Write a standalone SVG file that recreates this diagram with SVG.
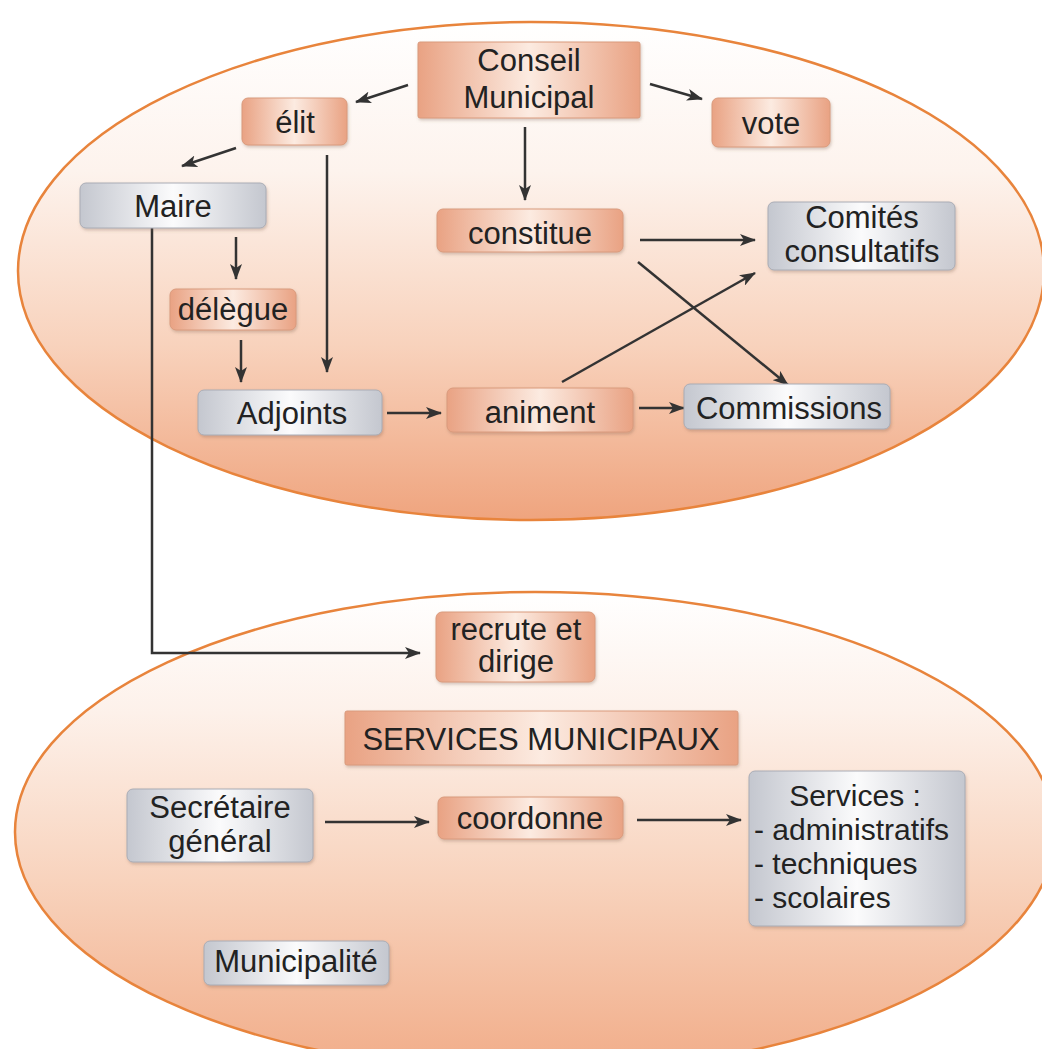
<svg xmlns="http://www.w3.org/2000/svg" width="1042" height="1049" viewBox="0 0 1042 1049">
<defs>
<linearGradient id="ellTop" x1="0" y1="0" x2="0" y2="1">
<stop offset="0" stop-color="#ffffff"/>
<stop offset="0.3" stop-color="#fdf3ed"/>
<stop offset="0.65" stop-color="#f8d2bc"/>
<stop offset="1" stop-color="#efa47e"/>
</linearGradient>
<linearGradient id="ellBot" x1="0" y1="0" x2="0" y2="1">
<stop offset="0" stop-color="#ffffff"/>
<stop offset="0.25" stop-color="#fdf1ea"/>
<stop offset="0.6" stop-color="#f8d3bd"/>
<stop offset="1" stop-color="#f1ac88"/>
</linearGradient>
<linearGradient id="peach" x1="0" y1="0" x2="1" y2="0">
<stop offset="0" stop-color="#e9a283"/>
<stop offset="0.5" stop-color="#fcebe1"/>
<stop offset="1" stop-color="#e9a283"/>
</linearGradient>
<linearGradient id="grey" x1="0" y1="0" x2="1" y2="0">
<stop offset="0" stop-color="#c4c7cf"/>
<stop offset="0.5" stop-color="#fbfbfc"/>
<stop offset="1" stop-color="#c4c7cf"/>
</linearGradient>
<filter id="sh" x="-10%" y="-10%" width="120%" height="130%">
<feDropShadow dx="1" dy="2" stdDeviation="1.5" flood-color="#7a5a4a" flood-opacity="0.3"/>
</filter>
<marker id="ah" viewBox="0 0 16 12" refX="15" refY="6" markerWidth="16" markerHeight="12" markerUnits="userSpaceOnUse" orient="auto">
<path d="M0,0 L16,6 L0,12 L4,6 Z" fill="#333"/>
</marker>
</defs>
<style>
.ell{stroke:#e8843c;stroke-width:2.5}
.pb{fill:url(#peach);stroke:#d99a7c;stroke-width:1;filter:url(#sh)}
.gb{fill:url(#grey);stroke:#a9acb5;stroke-width:1;filter:url(#sh)}
.t{font-family:"Liberation Sans",Arial,sans-serif;font-size:31px;fill:#222;text-anchor:middle}
.ts{font-size:30px}
.tl{text-anchor:start}
.c{fill:none;stroke:#333;stroke-width:2.5;marker-end:url(#ah)}
</style>
<rect width="1042" height="1049" fill="#ffffff"/>
<ellipse class="ell" cx="531" cy="271" rx="513" ry="249" fill="url(#ellTop)"/>
<ellipse class="ell" cx="535" cy="832" rx="520" ry="240" fill="url(#ellBot)"/>

<g id="connectors">
<line class="c" x1="408" y1="85" x2="356" y2="102"/>
<line class="c" x1="650" y1="84" x2="702" y2="99"/>
<line class="c" x1="236" y1="148" x2="182" y2="166"/>
<line class="c" x1="525" y1="127" x2="525" y2="200"/>
<line class="c" x1="327" y1="155" x2="327" y2="372"/>
<line class="c" x1="236" y1="237" x2="236" y2="279"/>
<line class="c" x1="241" y1="340" x2="241" y2="382"/>
<polyline class="c" points="152,228 152,653 420,653"/>
<line class="c" x1="387" y1="413" x2="441" y2="413"/>
<line class="c" x1="639" y1="408" x2="684" y2="408"/>
<line class="c" x1="562" y1="382" x2="755" y2="273"/>
<line class="c" x1="638" y1="262" x2="788" y2="385"/>
<line class="c" x1="640" y1="240" x2="755" y2="240"/>
<line class="c" x1="325" y1="822" x2="429" y2="822"/>
<line class="c" x1="637" y1="820" x2="741" y2="820"/>
</g>

<g id="conseil"><rect class="pb" x="418" y="42" width="222" height="76" rx="2"/><text class="t" x="529" y="71">Conseil</text><text class="t" x="529" y="108">Municipal</text></g>
<g id="elit"><rect class="pb" x="242" y="98" width="105" height="47" rx="6"/><text class="t" x="295" y="133">élit</text></g>
<g id="vote"><rect class="pb" x="712" y="98" width="118" height="49" rx="6"/><text class="t" x="771" y="134">vote</text></g>
<g id="maire"><rect class="gb" x="80" y="183" width="186" height="45" rx="6"/><text class="t" x="173" y="217">Maire</text></g>
<g id="constitue"><rect class="pb" x="437" y="209" width="186" height="43" rx="6"/><text class="t" x="530" y="244">constitue</text></g>
<g id="comites"><rect class="gb" x="768" y="202" width="187" height="68" rx="6"/><text class="t" x="862" y="228">Comités</text><text class="t" x="862" y="262">consultatifs</text></g>
<g id="delegue"><rect class="pb" x="170" y="289" width="126" height="41" rx="6"/><text class="t" x="233" y="320">délègue</text></g>
<g id="adjoints"><rect class="gb" x="198" y="390" width="184" height="45" rx="6"/><text class="t" x="292" y="424">Adjoints</text></g>
<g id="animent"><rect class="pb" x="447" y="388" width="186" height="44" rx="6"/><text class="t" x="540" y="423">animent</text></g>
<g id="commissions"><rect class="gb" x="684" y="384" width="206" height="45" rx="6"/><text class="t" x="789" y="419">Commissions</text></g>
<g id="recrute"><rect class="pb" x="436" y="612" width="159" height="70" rx="6"/><text class="t" x="516" y="640">recrute et</text><text class="t" x="516" y="672">dirige</text></g>
<g id="services-municipaux"><rect class="pb" x="345" y="711" width="393" height="54" rx="2"/><text class="t" x="541" y="750">SERVICES MUNICIPAUX</text></g>
<g id="secretaire"><rect class="gb" x="127" y="789" width="186" height="73" rx="6"/><text class="t" x="220" y="818">Secrétaire</text><text class="t" x="220" y="852">général</text></g>
<g id="coordonne"><rect class="pb" x="438" y="797" width="185" height="42" rx="6"/><text class="t" x="530" y="829">coordonne</text></g>
<g id="services"><rect class="gb" x="749" y="771" width="216" height="155" rx="6"/><text class="t ts" x="855" y="806">Services :</text><text class="t ts tl" x="754" y="840">- administratifs</text><text class="t ts tl" x="754" y="874">- techniques</text><text class="t ts tl" x="754" y="908">- scolaires</text></g>
<g id="municipalite"><rect class="gb" x="204" y="941" width="185" height="44" rx="6"/><text class="t" x="296" y="972">Municipalité</text></g>
</svg>
